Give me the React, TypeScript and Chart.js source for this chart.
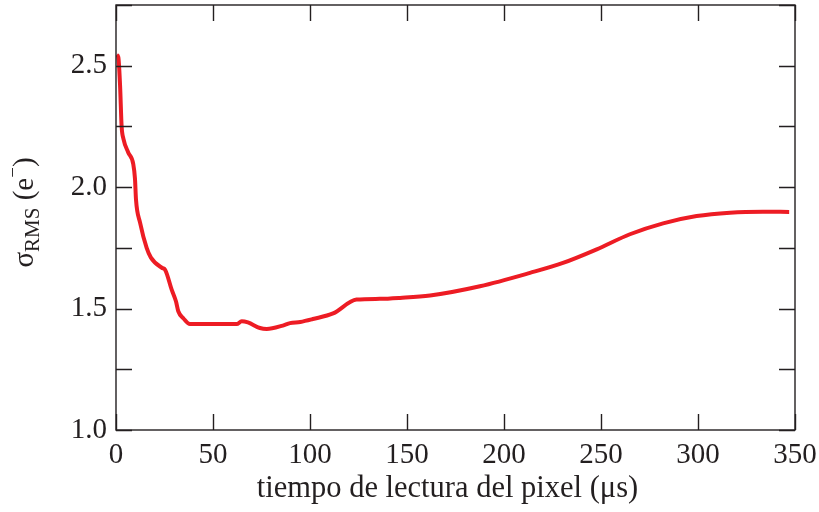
import { useEffect, useRef } from 'react';
import { Chart, registerables } from 'chart.js';

Chart.register(...registerables);

// read time of the pixel (µs)
const readTimes = [
  0.4, 1.2, 2.1, 2.9, 3.8, 6.3, 8.9, 9.8, 10.3, 12.4, 15.8, 18, 23.6, 25.3, 28.7,
  30.9, 32.1, 34.7, 38.1, 62.2, 64.8, 68, 74.2, 77.7, 86, 89.7, 95, 101.5, 111.9,
  124, 136, 146.4, 161.9, 187.6, 213.4, 230.4, 247.8, 264.9, 282, 299.3, 316.5,
  333.5, 347,
];
// sigma RMS (e-)
const sigmaRms = [
  2.545, 2.535, 2.418, 2.25, 2.2, 2.143, 2.095, 2.033, 1.95, 1.854, 1.75, 1.71, 1.668,
  1.66, 1.578, 1.53, 1.489, 1.46, 1.436, 1.436, 1.448, 1.443, 1.42, 1.416, 1.43, 1.44,
  1.445, 1.457, 1.48, 1.537, 1.54, 1.544, 1.554, 1.592, 1.647, 1.688, 1.744, 1.806,
  1.851, 1.881, 1.895, 1.899, 1.898,
];

const xMin = 0;
const xMax = 350;
const xStep = 50;
const yMin = 1.0;
const yMax = 2.75;
const yStep = 0.25;
const xTitle = 'tiempo de lectura del pixel (μs)';

const SERIF = "'Liberation Serif', 'Times New Roman', serif";
const INK = '#231f20';

const framePlugin = {
  id: 'frameTicks',
  afterDraw(chart: any) {
    const { ctx, chartArea: a, scales } = chart;
    const xs = scales.x;
    const ys = scales.y;
    const len = 16;
    ctx.save();
    ctx.strokeStyle = INK;
    ctx.lineWidth = 1.4;
    ctx.strokeRect(a.left, a.top, a.right - a.left, a.bottom - a.top);
    ctx.beginPath();
    xs.ticks.forEach((t: any) => {
      const p = Math.round(xs.getPixelForValue(t.value)) + 0.5;
      ctx.moveTo(p, a.bottom);
      ctx.lineTo(p, a.bottom - len);
      ctx.moveTo(p, a.top);
      ctx.lineTo(p, a.top + len);
    });
    ys.ticks.forEach((t: any) => {
      const p = Math.round(ys.getPixelForValue(t.value)) + 0.5;
      ctx.moveTo(a.left, p);
      ctx.lineTo(a.left + len, p);
      ctx.moveTo(a.right, p);
      ctx.lineTo(a.right - len, p);
    });
    ctx.stroke();

    // x axis title
    ctx.fillStyle = INK;
    ctx.font = `30.5px ${SERIF}`;
    ctx.textAlign = 'center';
    ctx.textBaseline = 'alphabetic';
    ctx.fillText(xTitle, (a.left + a.right) / 2 - 8, 497);

    // y axis title: σ_RMS (e⁻)
    const parts = [
      { t: 'σ', size: 29, dy: 0 },
      { t: 'RMS', size: 21, dy: 6 },
      { t: ' (e', size: 29, dy: 0 },
      { t: '−', size: 19, dy: -14 },
      { t: ')', size: 29, dy: 0 },
    ];
    let total = 0;
    const widths = parts.map((p) => {
      ctx.font = `${p.size}px ${SERIF}`;
      const w = ctx.measureText(p.t).width;
      total += w;
      return w;
    });
    ctx.translate(33, (a.top + a.bottom) / 2 - 5);
    ctx.rotate(-Math.PI / 2);
    ctx.textAlign = 'left';
    let x = -total / 2;
    parts.forEach((p, i) => {
      ctx.font = `${p.size}px ${SERIF}`;
      ctx.fillText(p.t, x, p.dy);
      x += widths[i];
    });
    ctx.restore();
  },
};

export default function App() {
  const ref = useRef<HTMLCanvasElement | null>(null);

  useEffect(() => {
    const canvas = ref.current;
    if (!canvas) return;
    const points = readTimes.map((x, i) => ({ x, y: sigmaRms[i] }));
    const chart = new Chart(canvas, {
      type: 'line',
      data: {
        datasets: [
          {
            data: points,
            borderColor: 'rgb(237,28,36)',
            borderWidth: 4,
            pointRadius: 0,
            fill: false,
            cubicInterpolationMode: 'monotone',
            borderJoinStyle: 'round',
            borderCapStyle: 'butt',
          },
        ],
      },
      options: {
        animation: false,
        responsive: true,
        maintainAspectRatio: false,
        layout: { padding: { left: 0, right: 24, top: 5, bottom: 0 } },
        plugins: {
          legend: { display: false },
          tooltip: { enabled: false },
        },
        scales: {
          x: {
            type: 'linear',
            min: xMin,
            max: xMax,
            grid: { display: false, drawTicks: false },
            border: { display: false },
            ticks: {
              stepSize: xStep,
              autoSkip: false,
              maxRotation: 0,
              padding: 8,
              color: INK,
              font: { family: SERIF, size: 29 },
              callback: (v: any) => String(v),
            },
            title: { display: false },
            afterFit: (s: any) => {
              s.height = 82;
              s.paddingLeft = 0;
              s.paddingRight = 0;
            },
          },
          y: {
            type: 'linear',
            min: yMin,
            max: yMax,
            grid: { display: false, drawTicks: false },
            border: { display: false },
            ticks: {
              stepSize: yStep,
              autoSkip: false,
              padding: 9,
              color: INK,
              font: { family: SERIF, size: 29 },
              callback: (v: any) => {
                const n = Number(v);
                return Math.abs(n * 2 - Math.round(n * 2)) < 1e-6 && n < 2.7 ? n.toFixed(1) : '';
              },
            },
            afterFit: (s: any) => {
              s.width = 116;
              s.paddingTop = 0;
              s.paddingBottom = 0;
            },
          },
        },
      },
      plugins: [framePlugin],
    } as any);
    return () => chart.destroy();
  }, []);

  return (
    <div style={{ position: 'absolute', left: 0, top: 0, width: 819, height: 512, background: '#fff' }}>
      <canvas ref={ref} />
    </div>
  );
}
